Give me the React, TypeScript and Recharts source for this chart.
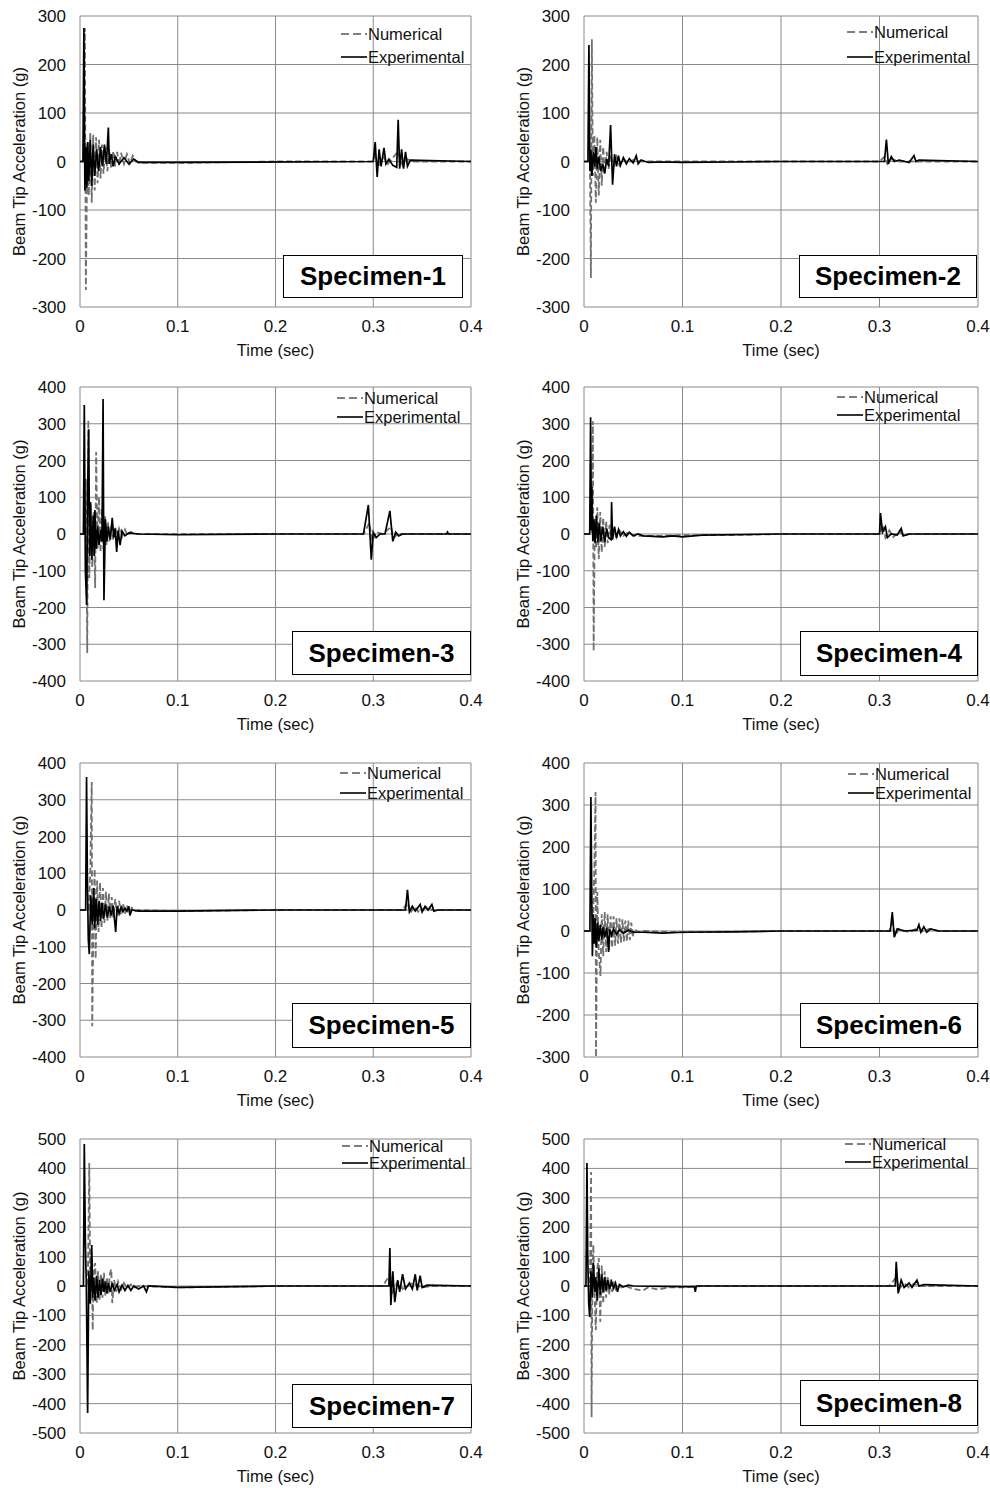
import React from 'react';
import { LineChart, Line, XAxis, YAxis, CartesianGrid, Legend, Label } from 'recharts';

type Pt = [number, number];

const FONT = '"Liberation Sans", Arial, sans-serif';

// axis ticks
const timeTicks = [0, 0.1, 0.2, 0.3, 0.4];
const acc300 = [-300, -200, -100, 0, 100, 200, 300];
const acc400 = [-400, -300, -200, -100, 0, 100, 200, 300, 400];
const acc300to400 = [-300, -200, -100, 0, 100, 200, 300, 400];
const acc500 = [-500, -400, -300, -200, -100, 0, 100, 200, 300, 400, 500];

// [time (sec), acceleration (g)]
const spec1Num: Pt[] = [
  [0, 0], [0.004, 0], [0.005, 275], [0.006, -265], [0.0075, 40], [0.009, -70], [0.0105, 60], [0.012, -85],
  [0.0135, 55], [0.015, -60], [0.0165, 50], [0.018, -45], [0.0195, 45], [0.021, -35], [0.0225, 35], [0.024, -25],
  [0.026, 30], [0.028, -20], [0.03, 25], [0.032, -15], [0.034, 22], [0.036, -10], [0.038, 20], [0.04, -8],
  [0.042, 18], [0.045, -5], [0.048, 15], [0.051, -4], [0.054, 12], [0.057, 0], [0.06, -3], [0.1, -3], [0.2, 0],
  [0.3, 0], [0.302, 15], [0.305, -10], [0.31, 10], [0.315, -5], [0.325, 20], [0.33, -8], [0.335, 5], [0.34, 0], [0.4, 0],
];
const spec1Exp: Pt[] = [
  [0, 0], [0.003, 0], [0.004, 275], [0.005, -60], [0.006, 30], [0.007, -55], [0.008, 40], [0.009, -40],
  [0.0105, 45], [0.012, -50], [0.0135, 35], [0.015, -30], [0.017, 25], [0.019, -20], [0.021, 30], [0.023, -10],
  [0.025, 35], [0.027, -5], [0.029, 70], [0.03, -5], [0.032, 15], [0.034, -10], [0.036, 10], [0.04, -5],
  [0.045, 8], [0.05, -5], [0.055, 5], [0.06, -2], [0.1, -2], [0.3, 0], [0.302, 40], [0.304, -32], [0.306, 25],
  [0.308, -10], [0.311, 28], [0.313, -5], [0.316, 5], [0.32, -8], [0.324, -12], [0.3255, 86], [0.327, -15],
  [0.329, 25], [0.331, -15], [0.333, 20], [0.335, -10], [0.338, 3], [0.4, 0],
];

const spec2Num: Pt[] = [
  [0, 0], [0.006, 0], [0.007, -240], [0.008, 252], [0.009, -30], [0.0105, 55], [0.012, -85], [0.0135, 50],
  [0.015, -70], [0.0165, 45], [0.018, -50], [0.0195, 30], [0.021, -25], [0.023, 20], [0.025, -15], [0.027, 15],
  [0.03, -10], [0.033, 10], [0.036, -8], [0.04, 5], [0.045, -3], [0.05, 3], [0.06, 0], [0.3, 0], [0.305, 10],
  [0.308, -5], [0.312, 5], [0.32, 0], [0.4, 0],
];
const spec2Exp: Pt[] = [
  [0, 0], [0.004, 0], [0.005, 240], [0.006, -20], [0.007, 25], [0.008, -30], [0.0095, 20], [0.011, -10],
  [0.012, 30], [0.0135, -15], [0.015, 10], [0.017, -20], [0.019, -5], [0.021, -25], [0.023, 5], [0.025, -10],
  [0.027, 75], [0.029, -48], [0.031, 15], [0.033, -10], [0.035, 12], [0.037, -8], [0.04, 8], [0.043, -5],
  [0.046, 6], [0.05, -3], [0.053, 12], [0.055, -5], [0.058, 3], [0.065, -2], [0.08, -1], [0.1, -2], [0.15, -1],
  [0.2, 0], [0.305, 0], [0.307, 45], [0.309, -5], [0.312, 10], [0.315, 0], [0.32, 3], [0.33, -2], [0.335, 12],
  [0.337, 0], [0.34, 3], [0.4, 0],
];

const spec3Num: Pt[] = [
  [0, 0], [0.005, 0], [0.006, 150], [0.0074, -324], [0.0085, 310], [0.0095, -120], [0.011, 80], [0.0125, -90],
  [0.014, 60], [0.0155, -147], [0.0165, 223], [0.018, -40], [0.0195, 100], [0.021, -50], [0.0225, 70],
  [0.024, -40], [0.0255, 50], [0.027, -30], [0.0285, 35], [0.03, -20], [0.032, 25], [0.034, -15], [0.036, 18],
  [0.038, -10], [0.04, 15], [0.043, -8], [0.046, 12], [0.049, -5], [0.052, 6], [0.055, 0], [0.29, 0],
  [0.296, 30], [0.299, -20], [0.303, 5], [0.31, 0], [0.318, 20], [0.321, -10], [0.325, 0], [0.4, 0],
];
const spec3Exp: Pt[] = [
  [0, 0], [0.0035, 0], [0.0044, 351], [0.0055, -100], [0.0068, -193], [0.0078, 120], [0.0089, 285],
  [0.0098, -60], [0.0108, 87], [0.012, -70], [0.0135, 50], [0.0145, -60], [0.0152, 65], [0.0165, -40],
  [0.018, 20], [0.0195, -30], [0.021, 10], [0.0225, -20], [0.0236, 367], [0.0245, -180], [0.026, 40],
  [0.0275, -20], [0.029, 20], [0.031, -15], [0.033, 44], [0.0345, -10], [0.036, 15], [0.0375, -49], [0.039, 10],
  [0.041, -30], [0.043, 8], [0.046, -5], [0.05, 3], [0.06, 0], [0.1, -2], [0.2, 0], [0.29, 0], [0.295, 79],
  [0.298, -70], [0.3, 5], [0.303, -10], [0.307, 0], [0.312, 0], [0.317, 63], [0.32, -20], [0.323, 5],
  [0.326, -5], [0.33, 0], [0.375, 0], [0.376, 5], [0.377, 0], [0.4, 0],
];

const spec4Num: Pt[] = [
  [0, 0], [0.008, 0], [0.009, 307], [0.0098, -318], [0.011, 40], [0.0125, -40], [0.0135, 73], [0.015, -68],
  [0.0165, 60], [0.018, -50], [0.0195, 45], [0.021, -35], [0.0225, 35], [0.024, -25], [0.026, 25], [0.028, -15],
  [0.03, 15], [0.033, -10], [0.036, 10], [0.04, -5], [0.045, 5], [0.05, -5], [0.06, -5], [0.08, -5], [0.1, -3],
  [0.15, -3], [0.2, 0], [0.3, 0], [0.303, 25], [0.306, -10], [0.31, 10], [0.314, -8], [0.32, 8], [0.325, -5],
  [0.33, 0], [0.4, 0],
];
const spec4Exp: Pt[] = [
  [0, 0], [0.0058, 0], [0.0067, 318], [0.0075, 10], [0.008, 128], [0.009, -20], [0.01, 40], [0.0112, -25],
  [0.0125, 50], [0.014, -22], [0.0155, 30], [0.017, -20], [0.019, 20], [0.021, -22], [0.023, 15], [0.025, -10],
  [0.0275, -15], [0.028, 87], [0.029, -15], [0.031, 20], [0.033, -10], [0.035, 12], [0.037, -5], [0.04, 6],
  [0.043, -6], [0.046, 5], [0.05, -5], [0.055, 0], [0.06, -5], [0.08, -8], [0.09, -5], [0.1, -8], [0.12, -3],
  [0.2, 0], [0.3, 0], [0.301, 57], [0.303, 5], [0.306, 20], [0.308, -10], [0.312, 0], [0.318, -3], [0.322, 15],
  [0.324, -5], [0.33, 0], [0.4, 0],
];

const spec5Num: Pt[] = [
  [0, 0], [0.009, 0], [0.0105, 100], [0.012, 348], [0.0125, -316], [0.014, 20], [0.015, 112], [0.016, -133],
  [0.0175, 80], [0.019, -60], [0.0205, 75], [0.022, -50], [0.0235, 60], [0.025, -35], [0.0265, 50], [0.028, -30],
  [0.0295, 45], [0.031, -25], [0.0325, 35], [0.034, -20], [0.036, 30], [0.038, -15], [0.04, 25], [0.042, -12],
  [0.044, 18], [0.046, -10], [0.048, 12], [0.05, -8], [0.053, 6], [0.056, -3], [0.06, 0], [0.1, -3], [0.2, 0],
  [0.33, 0], [0.335, 20], [0.338, -8], [0.342, 10], [0.346, -5], [0.355, 8], [0.36, 0], [0.4, 0],
];
const spec5Exp: Pt[] = [
  [0, 0], [0.0058, 0], [0.0067, 362], [0.0075, 100], [0.0085, -80], [0.0095, -120], [0.011, 40], [0.0125, -40],
  [0.014, 60], [0.015, -50], [0.0165, 30], [0.018, -40], [0.0195, 25], [0.021, -30], [0.0225, 20], [0.024, -25],
  [0.026, 15], [0.028, -20], [0.03, 10], [0.032, -15], [0.034, 12], [0.0365, -60], [0.038, 10], [0.04, -10],
  [0.042, 8], [0.044, -5], [0.046, 5], [0.048, -3], [0.05, 10], [0.051, -15], [0.053, 0], [0.06, -3],
  [0.1, -3], [0.2, 0], [0.333, 0], [0.335, 55], [0.337, -5], [0.34, 10], [0.343, -3], [0.348, 15], [0.35, -5],
  [0.353, 10], [0.356, 0], [0.36, 15], [0.362, -3], [0.366, 0], [0.4, 0],
];

const spec6Num: Pt[] = [
  [0, 0], [0.009, 0], [0.0105, 150], [0.0117, 331], [0.0122, -300], [0.0135, 93], [0.015, -50], [0.0167, -107],
  [0.018, 40], [0.0195, -60], [0.021, 45], [0.0225, -50], [0.024, 40], [0.0255, -45], [0.027, 35], [0.0285, -40],
  [0.03, 35], [0.0315, -35], [0.033, 30], [0.0345, -30], [0.036, 30], [0.0375, -28], [0.039, 28], [0.0405, -25],
  [0.042, 25], [0.0435, -25], [0.045, 25], [0.0465, -22], [0.048, 20], [0.0495, -15], [0.051, 5], [0.055, -3],
  [0.06, 0], [0.1, -3], [0.2, 0], [0.31, 0], [0.313, 20], [0.316, -10], [0.32, 5], [0.33, -3], [0.34, 8],
  [0.345, -3], [0.35, 5], [0.36, 0], [0.4, 0],
];
const spec6Exp: Pt[] = [
  [0, 0], [0.006, 0], [0.007, 319], [0.0078, 107], [0.0085, -60], [0.0095, 40], [0.0105, -30], [0.0115, 30],
  [0.0125, -40], [0.014, 20], [0.015, -25], [0.0165, 15], [0.018, -20], [0.0195, 10], [0.021, -15], [0.023, 8],
  [0.025, -50], [0.026, 5], [0.028, -10], [0.03, 5], [0.033, -8], [0.036, 3], [0.04, -5], [0.045, 2], [0.05, -3],
  [0.06, -3], [0.08, -5], [0.1, -3], [0.15, -2], [0.2, 0], [0.311, 0], [0.313, 45], [0.315, -15], [0.318, 5],
  [0.325, 0], [0.338, 2], [0.34, 15], [0.342, -3], [0.345, 10], [0.348, -3], [0.352, 5], [0.36, 0], [0.4, 0],
];

const spec7Num: Pt[] = [
  [0, 0], [0.008, 0], [0.0095, 418], [0.0105, -20], [0.012, 100], [0.013, -150], [0.014, 60], [0.0155, 78],
  [0.017, -60], [0.0185, 50], [0.02, -50], [0.0215, 40], [0.023, -40], [0.0245, 45], [0.026, -35], [0.0275, 30],
  [0.029, -30], [0.0305, 40], [0.032, 57], [0.033, -58], [0.035, 20], [0.037, -20], [0.039, 15], [0.042, -12],
  [0.045, 10], [0.048, -8], [0.052, 5], [0.056, -5], [0.06, 0], [0.1, -5], [0.2, 0], [0.31, 0], [0.317, 40],
  [0.32, -20], [0.325, 15], [0.33, -10], [0.34, 10], [0.35, -5], [0.36, 0], [0.4, 0],
];
const spec7Exp: Pt[] = [
  [0, 0], [0.0035, 0], [0.0044, 483], [0.0055, 150], [0.0065, 0], [0.0078, -432], [0.009, 50], [0.0105, -60],
  [0.012, 139], [0.013, -40], [0.014, 30], [0.0155, -50], [0.017, 35], [0.0185, -40], [0.02, 20], [0.0215, -30],
  [0.023, 25], [0.0245, -20], [0.026, 15], [0.0275, -25], [0.029, 10], [0.031, -20], [0.033, 10], [0.035, -15],
  [0.038, 5], [0.04, -20], [0.043, 3], [0.046, -15], [0.049, 2], [0.052, -15], [0.055, 0], [0.06, -10],
  [0.065, 0], [0.068, -20], [0.07, 0], [0.1, -5], [0.2, 0], [0.316, 0], [0.317, 129], [0.318, -65], [0.32, 50],
  [0.322, -55], [0.325, 20], [0.327, -20], [0.33, 40], [0.333, -10], [0.337, 10], [0.34, -10], [0.343, 40],
  [0.345, -15], [0.348, 35], [0.35, -5], [0.355, 3], [0.4, 0],
];

const spec8Num: Pt[] = [
  [0, 0], [0.006, 0], [0.0072, 388], [0.0077, -446], [0.0085, 40], [0.0095, 140], [0.011, -60], [0.012, -150],
  [0.0135, 60], [0.015, 95], [0.0165, -122], [0.018, 70], [0.0195, -60], [0.021, 50], [0.0225, -40], [0.024, 35],
  [0.0255, -30], [0.027, 25], [0.0285, -20], [0.03, 15], [0.032, -10], [0.035, 8], [0.038, -5], [0.042, 0],
  [0.05, -10], [0.06, -15], [0.065, -5], [0.075, -12], [0.085, -5], [0.1, -5], [0.12, 0], [0.2, 0], [0.31, 0],
  [0.317, 30], [0.32, -10], [0.325, 10], [0.33, -5], [0.335, 8], [0.34, 0], [0.4, 0],
];
const spec8Exp: Pt[] = [
  [0, 0], [0.002, 0], [0.003, 418], [0.0038, 100], [0.0048, -60], [0.0058, -105], [0.007, 50], [0.0085, -40],
  [0.0095, 80], [0.011, -20], [0.012, 30], [0.0135, -50], [0.015, 60], [0.0165, -30], [0.018, 40], [0.0195, -20],
  [0.021, 30], [0.0225, -15], [0.024, 20], [0.026, -10], [0.028, 15], [0.03, -8], [0.032, 10], [0.034, -20],
  [0.036, 5], [0.04, -3], [0.045, 3], [0.05, 0], [0.1, -2], [0.112, -2], [0.113, -20], [0.114, 0], [0.2, 0],
  [0.316, 0], [0.317, 82], [0.319, -25], [0.322, 20], [0.325, -5], [0.33, 10], [0.333, -5], [0.338, 20],
  [0.34, 0], [0.345, 5], [0.4, 0],
];

// layout (page coordinates)
const ROW_PLOT_TOP = [16, 387, 763, 1139];
const ROW_PLOT_H = [291, 294, 294, 294];
const COL_LEFT = [0, 504];
const COL_WIDTH = [490, 486];
const COL_PLOT_RIGHT = [471, 978];
const Y_AXIS_W = 80;
const X_AXIS_H = 56;
const TOP_PAD = 16;

const SERIES_ORDER = ['Numerical', 'Experimental'];

interface Panel {
  name: string;
  num: Pt[];
  exp: Pt[];
  ticks: number[];
  row: number;
  col: number;
  legendX: number;
  legendY: number;
  legendGap: number;
  box: [number, number, number, number];
}

const panels: Panel[] = [
  { name: 'Specimen-1', num: spec1Num, exp: spec1Exp, ticks: acc300, row: 0, col: 0, legendX: 368, legendY: 34, legendGap: 23, box: [283, 255, 180, 43] },
  { name: 'Specimen-2', num: spec2Num, exp: spec2Exp, ticks: acc300, row: 0, col: 1, legendX: 874, legendY: 32, legendGap: 25, box: [799, 255, 178, 43] },
  { name: 'Specimen-3', num: spec3Num, exp: spec3Exp, ticks: acc400, row: 1, col: 0, legendX: 364, legendY: 398, legendGap: 19, box: [292, 631, 179, 44] },
  { name: 'Specimen-4', num: spec4Num, exp: spec4Exp, ticks: acc400, row: 1, col: 1, legendX: 864, legendY: 397, legendGap: 18, box: [800, 631, 178, 45] },
  { name: 'Specimen-5', num: spec5Num, exp: spec5Exp, ticks: acc400, row: 2, col: 0, legendX: 367, legendY: 773, legendGap: 20, box: [292, 1003, 179, 45] },
  { name: 'Specimen-6', num: spec6Num, exp: spec6Exp, ticks: acc300to400, row: 2, col: 1, legendX: 875, legendY: 774, legendGap: 19, box: [800, 1003, 178, 45] },
  { name: 'Specimen-7', num: spec7Num, exp: spec7Exp, ticks: acc500, row: 3, col: 0, legendX: 369, legendY: 1146, legendGap: 17, box: [292, 1384, 180, 44] },
  { name: 'Specimen-8', num: spec8Num, exp: spec8Exp, ticks: acc500, row: 3, col: 1, legendX: 872, legendY: 1144, legendGap: 18, box: [800, 1380, 178, 46] },
];

const toPoints = (arr: Pt[]) => arr.map(([t, a]) => ({ t, a }));

const LegendBox = ({ payload, gap }: any) => {
  const items = [...(payload || [])].sort(
    (a: any, b: any) => SERIES_ORDER.indexOf(a.value) - SERIES_ORDER.indexOf(b.value),
  );
  return (
    <div style={{ fontFamily: FONT, fontSize: 16.5, color: '#111', lineHeight: 1 }}>
      {items.map((entry: any) => {
        const dashed = entry.value === 'Numerical';
        return (
          <div key={entry.value} style={{ display: 'flex', alignItems: 'center', height: gap }}>
            <svg width={28} height={6} style={{ display: 'block' }}>
              <line
                x1={1}
                y1={3}
                x2={27}
                y2={3}
                stroke={dashed ? '#555' : '#000'}
                strokeWidth={1.6}
                strokeDasharray={dashed ? '8 4' : undefined}
              />
            </svg>
            <span style={{ whiteSpace: 'nowrap' }}>{entry.value}</span>
          </div>
        );
      })}
    </div>
  );
};

const AccelPanel = ({ p }: { p: Panel }) => {
  const left = COL_LEFT[p.col];
  const width = COL_WIDTH[p.col];
  const top = ROW_PLOT_TOP[p.row] - TOP_PAD;
  const height = TOP_PAD + ROW_PLOT_H[p.row] + X_AXIS_H;
  const marginRight = left + width - COL_PLOT_RIGHT[p.col];
  const tickStyle = { fontSize: 17, fill: '#111', fontFamily: FONT };
  const ticks = p.ticks;

  return (
    <div style={{ position: 'absolute', left, top, width, height }}>
      <LineChart width={width} height={height} margin={{ top: TOP_PAD, right: marginRight, bottom: 0, left: 0 }}>
        <CartesianGrid stroke="#8a8a8a" strokeWidth={1} />
        <XAxis
          type="number"
          dataKey="t"
          domain={[0, 0.4]}
          ticks={timeTicks}
          interval={0}
          allowDataOverflow
          tickLine={false}
          axisLine={false}
          tickMargin={7}
          height={X_AXIS_H}
          tick={tickStyle}
        >
          <Label
            content={({ viewBox }: any) => (
              <text
                x={viewBox.x + viewBox.width / 2}
                y={viewBox.y + 43}
                textAnchor="middle"
                dominantBaseline="central"
                fontSize={16.5}
                fontFamily={FONT}
                fill="#111"
              >
                Time (sec)
              </text>
            )}
          />
        </XAxis>
        <YAxis
          type="number"
          domain={[ticks[0], ticks[ticks.length - 1]]}
          ticks={ticks}
          interval={0}
          allowDataOverflow
          tickLine={false}
          axisLine={false}
          tickMargin={8}
          width={Y_AXIS_W}
          tick={tickStyle}
        >
          <Label
            content={({ viewBox }: any) => {
              const cx = viewBox.x + 19;
              const cy = viewBox.y + viewBox.height / 2;
              return (
                <text
                  x={cx}
                  y={cy}
                  transform={`rotate(-90 ${cx} ${cy})`}
                  textAnchor="middle"
                  dominantBaseline="central"
                  fontSize={16.5}
                  fontFamily={FONT}
                  fill="#111"
                >
                  Beam Tip Acceleration (g)
                </text>
              );
            }}
          />
        </YAxis>
        <Legend
          layout="vertical"
          align="center"
          verticalAlign="middle"
          content={(props: any) => <LegendBox payload={props.payload} gap={p.legendGap} />}
          wrapperStyle={{
            left: p.legendX - 28 - left,
            top: p.legendY - p.legendGap / 2 - top,
            width: 'auto',
            height: 'auto',
          }}
        />
        <Line
          name="Numerical"
          data={toPoints(p.num)}
          dataKey="a"
          type="linear"
          stroke="#707070"
          strokeWidth={1.8}
          strokeDasharray="6 3"
          dot={false}
          isAnimationActive={false}
        />
        <Line
          name="Experimental"
          data={toPoints(p.exp)}
          dataKey="a"
          type="linear"
          stroke="#000"
          strokeWidth={1.7}
          dot={false}
          isAnimationActive={false}
        />
      </LineChart>
      <div
        style={{
          position: 'absolute',
          left: p.box[0] - left,
          top: p.box[1] - top,
          width: p.box[2],
          height: p.box[3],
          boxSizing: 'border-box',
          border: '1.5px solid #000',
          background: '#fff',
          display: 'flex',
          alignItems: 'center',
          justifyContent: 'center',
          fontFamily: FONT,
          fontWeight: 'bold',
          fontSize: 26,
          color: '#000',
        }}
      >
        {p.name}
      </div>
    </div>
  );
};

const App: React.FC = () => {
  return (
    <div style={{ position: 'absolute', left: 0, top: 0, width: 990, height: 1488, background: '#fff' }}>
      {panels.map((p) => (
        <AccelPanel key={p.name} p={p} />
      ))}
    </div>
  );
};

export default App;
